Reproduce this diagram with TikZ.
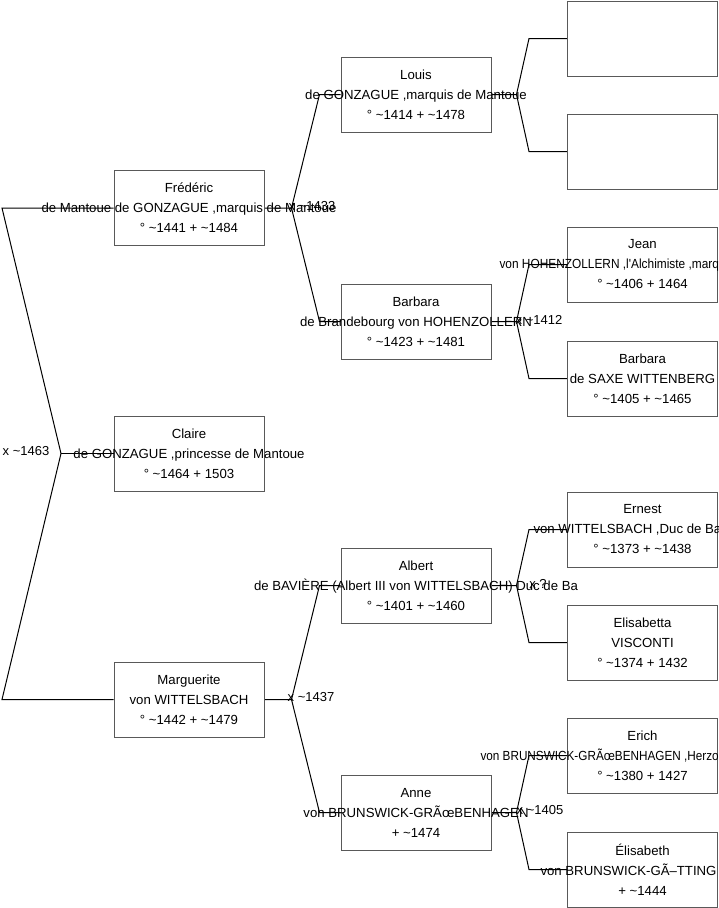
\documentclass[tikz,border=0pt]{standalone}
\usepackage{fontspec}
\usepackage{graphicx}
\newfontfamily\arial{Liberation Sans}
\newcommand{\tld}{\textasciitilde}
\newcommand{\lftline}[3][1]{\hbox to 0pt{\hskip #2pt\relax\scalebox{#1}[1]{#3}\hss}}
\begin{document}
\begin{tikzpicture}[x=1pt,y=-1pt,
  box/.style={draw=black!65, line width=1pt, fill=white, minimum width=150pt, minimum height=75pt, inner sep=0pt},
  txt/.style={font=\arial\fontsize{13.2}{20}\selectfont, align=center, inner sep=0pt},
  wire/.style={draw=black, line width=1pt},
  lbl/.style={font=\arial\fontsize{13}{16}\selectfont, inner sep=0pt}]
\path[use as bounding box] (0,0) rectangle (719,908);
\clip (0,0) rectangle (719,908);
% box positions
\path
  (189,208) coordinate (pfred)
  (189,453.5) coordinate (pclaire)
  (189,699.5) coordinate (pmarg)
  (416,94.5) coordinate (plouis)
  (416,321.5) coordinate (pbarb)
  (416,585.5) coordinate (palbert)
  (416,812.5) coordinate (panne)
  (642.5,38.5) coordinate (pu1)
  (642.5,151.5) coordinate (pu2)
  (642.5,264.5) coordinate (pjean)
  (642.5,378.5) coordinate (pbarbs)
  (642.5,529.5) coordinate (pernest)
  (642.5,642.5) coordinate (pelisa)
  (642.5,755.5) coordinate (perich)
  (642.5,869.5) coordinate (pelis);
\foreach \n in {fred,claire,marg,louis,barb,albert,anne,u1,u2,jean,barbs,ernest,elisa,erich,elis}
  \node[box] (\n) at (p\n) {};
% connectors
\coordinate (r1) at (2,208);
\coordinate (r2) at (2,699.5);
\coordinate (rA) at (61,453.5);
\draw[wire] (fred.west) -- (r1) -- (rA) -- (r2) -- (marg.west);
\draw[wire] (rA) -- (claire.west);
% Frederic -> parents
\coordinate (fA) at ([xshift=27pt]fred.east);
\draw[wire] (fred.east) -- (fA) -- ([xshift=-21pt]louis.west) -- (louis.west);
\draw[wire] (fA) -- ([xshift=-21pt]barb.west) -- (barb.west);
% Marguerite -> parents
\coordinate (mA) at ([xshift=27pt]marg.east);
\draw[wire] (marg.east) -- (mA) -- ([xshift=-21pt]albert.west) -- (albert.west);
\draw[wire] (mA) -- ([xshift=-21pt]anne.west) -- (anne.west);
% Louis
\coordinate (lA) at ([xshift=25pt]louis.east);
\draw[wire] (louis.east) -- (lA) -- ([xshift=-38pt]u1.west) -- (u1.west);
\draw[wire] (lA) -- ([xshift=-38pt]u2.west) -- (u2.west);
% Barbara
\coordinate (bA) at ([xshift=25pt]barb.east);
\draw[wire] (barb.east) -- (bA) -- ([xshift=-38pt]jean.west) -- (jean.west);
\draw[wire] (bA) -- ([xshift=-38pt]barbs.west) -- (barbs.west);
% Albert
\coordinate (aA) at ([xshift=25pt]albert.east);
\draw[wire] (albert.east) -- (aA) -- ([xshift=-38pt]ernest.west) -- (ernest.west);
\draw[wire] (aA) -- ([xshift=-38pt]elisa.west) -- (elisa.west);
% Anne
\coordinate (nA) at ([xshift=25pt]anne.east);
\draw[wire] (anne.east) -- (nA) -- ([xshift=-38pt]erich.west) -- (erich.west);
\draw[wire] (nA) -- ([xshift=-38pt]elis.west) -- (elis.west);
% redraw boxes over wires
\foreach \n in {fred,claire,marg,louis,barb,albert,anne,u1,u2,jean,barbs,ernest,elisa,erich,elis}
  \node[box] at (p\n) {};
% texts
\node[txt] (tfred) at (fred) {Frédéric\\de Mantoue de GONZAGUE ,marquis de Mantoue\\° \tld1441 + \tld1484};
\node[txt] (tclaire) at (claire) {Claire\\de GONZAGUE ,princesse de Mantoue\\° \tld1464 + 1503};
\node[txt] (tmarg) at (marg) {Marguerite\\von WITTELSBACH\\° \tld1442 + \tld1479};
\node[txt] (tlouis) at (louis) {Louis\\de GONZAGUE ,marquis de Mantoue\\° \tld1414 + \tld1478};
\node[txt] (tbarb) at (barb) {Barbara\\de Brandebourg von HOHENZOLLERN\\° \tld1423 + \tld1481};
\node[txt] (talbert) at (albert) {Albert\\de BAVIÈRE (Albert III von WITTELSBACH) Duc de Ba\\° \tld1401 + \tld1460};
\node[txt] (tanne) at (anne) {Anne\\von BRUNSWICK-GRÃœBENHAGEN\\+ \tld1474};
\node[txt] (tjean) at (jean) {Jean\\\lftline[0.9]{-143}{von HOHENZOLLERN ,l'Alchimiste ,marq}\\° \tld1406 + 1464};
\node[txt] (tbarbs) at (barbs) {Barbara\\de SAXE WITTENBERG\\° \tld1405 + \tld1465};
\node[txt] (ternest) at (ernest) {Ernest\\\lftline{-109}{von WITTELSBACH ,Duc de Ba}\\° \tld1373 + \tld1438};
\node[txt] (telisa) at (elisa) {Elisabetta\\VISCONTI\\° \tld1374 + 1432};
\node[txt] (terich) at (erich) {Erich\\\lftline[0.89]{-162}{von BRUNSWICK-GRÃœBENHAGEN ,Herzo}\\° \tld1380 + 1427};
\node[txt] (telis) at (elis) {Élisabeth\\\lftline{-102}{von BRUNSWICK-GÃ–TTING}\\+ \tld1444};
% marriage labels
\node[lbl] (m1) at (26,451.5) {x \tld1463};
\node[lbl] (m2) at (312,206.5) {x \tld1433};
\node[lbl] (m3) at (311,697.5) {x \tld1437};
\node[lbl] (m4) at (539,319.5) {x \tld1412};
\node[lbl] (m5) at (538,583.5) {x ?};
\node[lbl] (m6) at (540,810.5) {x \tld1405};
\end{tikzpicture}
\end{document}
